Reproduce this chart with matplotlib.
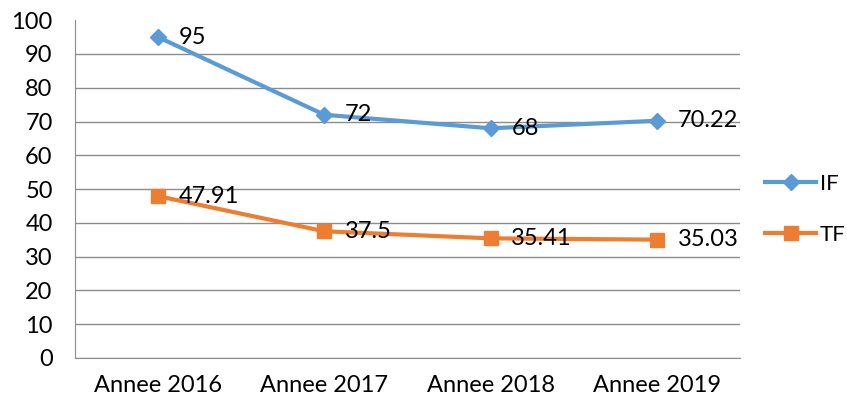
import matplotlib.pyplot as plt

plt.rcParams['font.family'] = ['Lato', 'DejaVu Sans']

annees = ['Annee 2016', 'Annee 2017', 'Annee 2018', 'Annee 2019']
valeurs_if = [95, 72, 68, 70.22]
valeurs_tf = [47.91, 37.5, 35.41, 35.03]
etiquettes_if = ['95', '72', '68', '70.22']
etiquettes_tf = ['47.91', '37.5', '35.41', '35.03']

bleu = '#5B9BD5'
orange = '#ED7D31'

fig = plt.figure(figsize=(8.47, 4.04), dpi=100)
ax = fig.add_axes([0.0885, 0.114, 0.785, 0.836])

x = range(len(annees))
ax.plot(x, valeurs_if, color=bleu, lw=3, marker='D', ms=8, label='IF')
ax.plot(x, valeurs_tf, color=orange, lw=3, marker='s', ms=10, label='TF')

for xi, v, t in zip(x, valeurs_if, etiquettes_if):
    ax.annotate(t, (xi, v), xytext=(15, 0), textcoords='offset points',
                va='center', ha='left', fontsize=17, color='black')
for xi, v, t in zip(x, valeurs_tf, etiquettes_tf):
    ax.annotate(t, (xi, v), xytext=(15, 0), textcoords='offset points',
                va='center', ha='left', fontsize=17, color='black')

ax.set_xlim(-0.5, 3.5)
ax.set_ylim(0, 100)
ax.set_yticks(range(0, 101, 10))
ax.set_xticks(list(x))
ax.set_xticklabels(annees)
ax.tick_params(axis='both', length=0, labelsize=17, colors='black')
ax.tick_params(axis='x', pad=12)
ax.tick_params(axis='y', pad=16)

ax.grid(axis='y', color='#8c8c8c', lw=1)
ax.get_ygridlines()[-1].set_visible(False)
ax.set_axisbelow(True)
for s in ['top', 'right']:
    ax.spines[s].set_visible(False)
for s in ['left', 'bottom']:
    ax.spines[s].set_color('#8c8c8c')

ax.legend(loc='center left', bbox_to_anchor=(1.038, 0.44), frameon=False,
          fontsize=16, handlelength=2.3, labelspacing=1.4, handletextpad=0.15,
          borderaxespad=0.0, borderpad=0.0)

fig.savefig('out.png', dpi=100)
